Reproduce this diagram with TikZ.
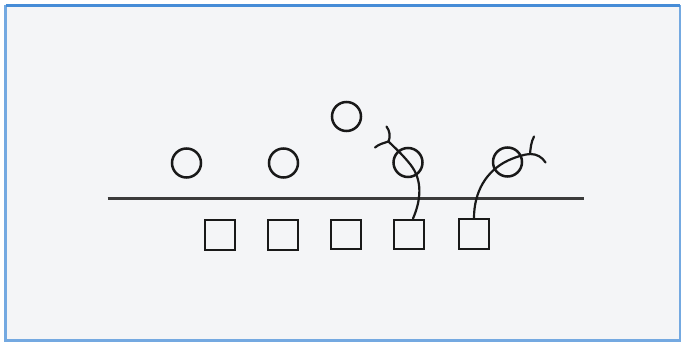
\documentclass[tikz,border=0pt]{standalone}
\usetikzlibrary{calc}
\definecolor{frameblue}{RGB}{70,140,215}
\definecolor{paper}{RGB}{244,245,247}
\definecolor{ink}{RGB}{25,25,25}
\begin{document}
\begin{tikzpicture}[x=1pt,y=-1pt,
  ball/.style={draw=ink,circle,line width=2.5pt,minimum size=29pt,inner sep=0pt},
  sqbox/.style={draw=ink,rectangle,line width=2.4pt,minimum size=29.5pt,inner sep=0pt},
  tether/.style={draw=ink,line width=2.2pt,line cap=round},
  fork/.style={draw=ink,line width=2.2pt,line cap=round}]
\useasboundingbox (0,0) rectangle (685,344);
\fill[white] (0,0) rectangle (685,344);
\fill[paper] (5.5,6) rectangle (680,340.5);
\draw[frameblue!75,line width=2.2pt] (5.5,6) rectangle (680,340.5);
\draw[frameblue,line width=3pt] (5.5,6) -- (680,6);
% membrane line
\coordinate (mL) at (107.5,198.5);
\coordinate (mR) at (584,198.5);
\draw[ink!85,line width=2.4pt] (mL) -- (mR);
% circles
\node[ball] (c1) at (186.5,163) {};
\node[ball] (c2) at (283.5,163) {};
\node[ball] (c3) at (346.5,116.5) {};
\node[ball] (c4) at (408,162.5) {};
\node[ball] (c5) at (507.5,162) {};
% squares
\node[sqbox] (s1) at (220,235) {};
\node[sqbox] (s2) at (283,235) {};
\node[sqbox] (s3) at (346,234.5) {};
\node[sqbox] (s4) at (409,234.5) {};
\node[sqbox] (s5) at (474,234) {};
% junctions and fork tips
\coordinate (j1) at (388.5,141.5);
\coordinate (j1a) at (386.5,126.5);
\coordinate (j1b) at (375,147.5);
\coordinate (j2) at (530,154);
\coordinate (j2a) at (534,136.5);
\coordinate (j2b) at (545.5,162.5);
% tethers
\draw[tether] ([xshift=4pt]s4.north) .. controls (421,200) and (423,180) .. (410,164)
  .. controls (402,154) and (394,147) .. (j1);
\draw[tether] (s5.north) .. controls (474,192) and (486,171) .. (508,160.5)
  .. controls (517,156.5) and (524,154.5) .. (j2);
% forks
\draw[fork] (j1a) .. controls (390,131) and (390.5,137) .. (j1)
  .. controls (384,143) and (379,144) .. (j1b);
\draw[fork] (j2a) .. controls (531,142) and (530.5,149) .. (j2)
  .. controls (537,154) and (542,157) .. (j2b);
\end{tikzpicture}
\end{document}
